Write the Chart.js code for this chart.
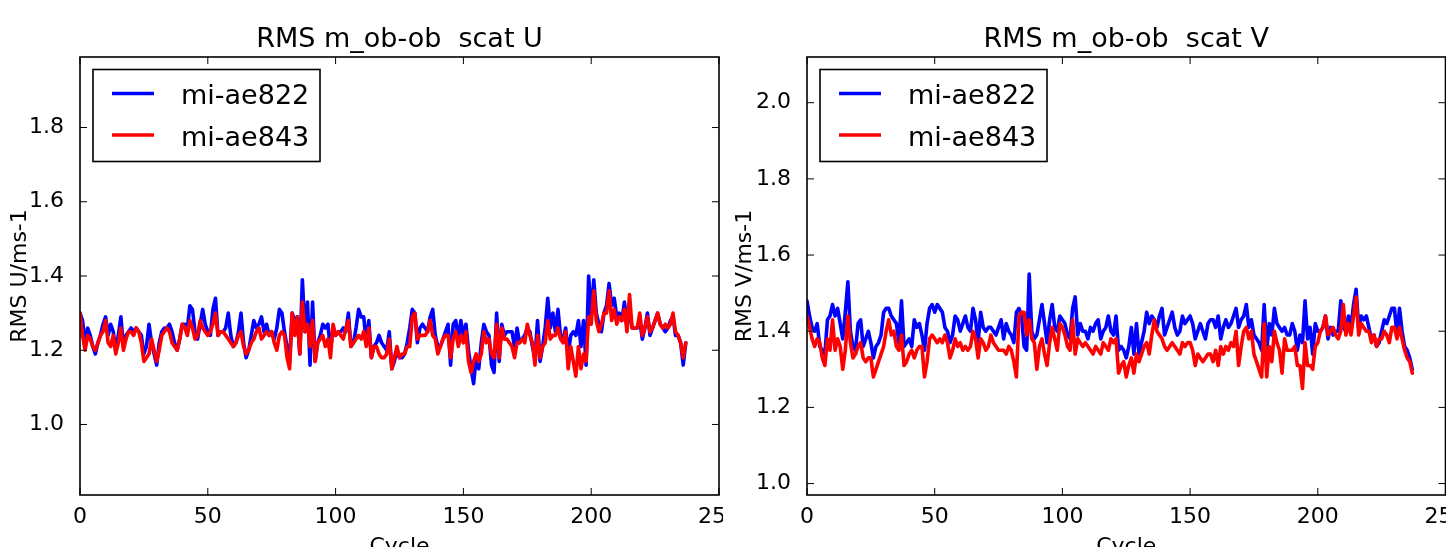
<!DOCTYPE html>
<html><head><meta charset="utf-8">
<script src="https://cdn.jsdelivr.net/npm/chart.js@4/dist/chart.umd.min.js"></script>
<style>
html,body{margin:0;padding:0;background:#fff;width:1446px;height:547px;overflow:hidden}
.panel{position:absolute;top:0;width:723px;height:547px;overflow:hidden;background:#fff}
canvas{display:block}
</style></head><body>
<div class="panel" style="left:0"><canvas id="cU" width="800" height="600"></canvas></div>
<div class="panel" style="left:723px"><canvas id="cV" width="800" height="600"></canvas></div>
<script>
// ---------- DATA ----------
const seriesNames = ['mi-ae822', 'mi-ae843'];
const seriesColors = ['#0000ff', '#ff0000'];
const xTicks = [0, 50, 100, 150, 200, 250];
const uTicks = [1.0, 1.2, 1.4, 1.6, 1.8];
const vTicks = [1.0, 1.2, 1.4, 1.6, 1.8, 2.0];
const titleU = 'RMS m_ob-ob  scat U';
const titleV = 'RMS m_ob-ob  scat V';
const yLabelU = 'RMS U/ms-1';
const yLabelV = 'RMS V/ms-1';
const xLabel = 'Cycle';

// RMS U, mi-ae822 (cycles 0..237)
const u822 = [
1.30,1.28,1.22,1.26,1.24,1.21,1.19,1.22,1.24,1.27,1.29,1.24,1.27,1.25,1.20,1.24,1.29,1.21,1.24,1.25,
1.26,1.25,1.26,1.25,1.24,1.19,1.21,1.27,1.22,1.19,1.16,1.22,1.25,1.26,1.26,1.27,1.25,1.22,1.20,1.23,
1.27,1.27,1.26,1.32,1.31,1.25,1.23,1.27,1.31,1.27,1.25,1.24,1.31,1.34,1.24,1.25,1.25,1.26,1.30,1.24,
1.21,1.22,1.25,1.30,1.22,1.18,1.20,1.24,1.28,1.26,1.27,1.29,1.25,1.27,1.24,1.25,1.23,1.26,1.31,1.30,
1.25,1.21,1.17,1.30,1.28,1.29,1.19,1.39,1.25,1.33,1.16,1.33,1.17,1.22,1.24,1.27,1.26,1.27,1.20,1.26,
1.24,1.25,1.25,1.26,1.25,1.30,1.21,1.22,1.26,1.31,1.29,1.29,1.22,1.28,1.18,1.21,1.22,1.24,1.22,1.21,
1.20,1.25,1.15,1.17,1.20,1.18,1.18,1.19,1.22,1.26,1.31,1.30,1.22,1.26,1.27,1.26,1.25,1.29,1.31,1.24,
1.21,1.21,1.23,1.25,1.27,1.16,1.27,1.28,1.23,1.28,1.24,1.27,1.20,1.15,1.11,1.18,1.15,1.22,1.27,1.25,
1.24,1.16,1.14,1.30,1.17,1.27,1.24,1.25,1.25,1.25,1.21,1.26,1.22,1.23,1.24,1.26,1.25,1.21,1.18,1.28,
1.17,1.21,1.26,1.34,1.26,1.30,1.25,1.31,1.24,1.23,1.26,1.19,1.24,1.25,1.24,1.28,1.21,1.28,1.16,1.40,
1.29,1.39,1.30,1.27,1.25,1.30,1.32,1.38,1.32,1.34,1.29,1.30,1.28,1.33,1.27,1.30,1.26,1.26,1.26,1.28,
1.23,1.26,1.30,1.24,1.26,1.28,1.30,1.27,1.26,1.25,1.26,1.28,1.29,1.24,1.24,1.22,1.16,1.22
];
// RMS U, mi-ae843
const u843 = [
1.30,1.24,1.20,1.24,1.23,1.21,1.20,1.22,1.24,1.25,1.28,1.22,1.21,1.24,1.19,1.22,1.26,1.20,1.23,1.25,
1.25,1.24,1.26,1.25,1.22,1.17,1.18,1.19,1.23,1.20,1.17,1.20,1.24,1.25,1.26,1.25,1.22,1.21,1.20,1.23,
1.27,1.26,1.24,1.28,1.26,1.23,1.24,1.28,1.26,1.25,1.24,1.25,1.27,1.30,1.24,1.25,1.25,1.24,1.23,1.22,
1.21,1.22,1.24,1.25,1.21,1.19,1.20,1.22,1.23,1.25,1.26,1.23,1.24,1.25,1.24,1.25,1.22,1.20,1.24,1.25,
1.24,1.18,1.15,1.30,1.24,1.29,1.19,1.33,1.25,1.27,1.21,1.28,1.17,1.22,1.23,1.24,1.21,1.23,1.18,1.27,
1.24,1.25,1.24,1.23,1.26,1.28,1.21,1.22,1.23,1.24,1.23,1.25,1.21,1.26,1.18,1.21,1.21,1.19,1.18,1.18,
1.19,1.23,1.15,1.18,1.21,1.18,1.19,1.19,1.21,1.21,1.29,1.30,1.23,1.24,1.24,1.24,1.25,1.28,1.24,1.23,
1.19,1.21,1.23,1.24,1.24,1.18,1.23,1.25,1.21,1.24,1.22,1.25,1.17,1.14,1.17,1.19,1.17,1.19,1.25,1.22,
1.23,1.19,1.18,1.27,1.18,1.26,1.23,1.23,1.22,1.21,1.18,1.22,1.22,1.23,1.22,1.27,1.24,1.22,1.16,1.24,
1.18,1.21,1.22,1.28,1.23,1.24,1.24,1.26,1.23,1.22,1.25,1.15,1.21,1.17,1.13,1.21,1.15,1.19,1.17,1.29,
1.27,1.36,1.28,1.25,1.27,1.30,1.30,1.36,1.28,1.31,1.27,1.29,1.28,1.31,1.25,1.35,1.26,1.26,1.26,1.30,
1.24,1.26,1.29,1.25,1.26,1.28,1.30,1.27,1.26,1.27,1.26,1.27,1.30,1.25,1.24,1.22,1.18,1.22
];
// RMS V, mi-ae822
const v822 = [
1.48,1.44,1.41,1.40,1.42,1.36,1.35,1.34,1.43,1.44,1.47,1.44,1.46,1.42,1.38,1.45,1.53,1.40,1.36,1.35,
1.42,1.43,1.36,1.38,1.40,1.37,1.33,1.36,1.37,1.39,1.45,1.46,1.46,1.44,1.43,1.42,1.37,1.48,1.36,1.37,
1.38,1.36,1.43,1.41,1.42,1.39,1.35,1.42,1.46,1.47,1.45,1.47,1.46,1.45,1.41,1.40,1.37,1.39,1.44,1.43,
1.40,1.42,1.44,1.41,1.40,1.46,1.43,1.37,1.45,1.41,1.40,1.41,1.41,1.40,1.39,1.41,1.43,1.38,1.42,1.40,
1.39,1.37,1.45,1.46,1.44,1.36,1.35,1.55,1.40,1.38,1.39,1.43,1.47,1.42,1.37,1.43,1.47,1.41,1.40,1.44,
1.43,1.42,1.39,1.38,1.46,1.49,1.39,1.42,1.40,1.40,1.38,1.41,1.40,1.42,1.43,1.38,1.40,1.41,1.44,1.40,
1.39,1.44,1.35,1.36,1.35,1.33,1.36,1.41,1.34,1.42,1.34,1.37,1.40,1.45,1.42,1.44,1.43,1.41,1.44,1.46,
1.39,1.41,1.43,1.45,1.41,1.39,1.40,1.44,1.42,1.43,1.44,1.42,1.38,1.40,1.42,1.40,1.38,1.42,1.43,1.43,
1.41,1.44,1.38,1.41,1.43,1.41,1.42,1.44,1.46,1.41,1.43,1.44,1.47,1.41,1.43,1.39,1.38,1.37,1.35,1.47,
1.35,1.42,1.39,1.46,1.42,1.41,1.40,1.41,1.39,1.39,1.42,1.40,1.35,1.39,1.37,1.48,1.38,1.41,1.34,1.42,
1.40,1.40,1.41,1.44,1.38,1.41,1.39,1.40,1.40,1.48,1.41,1.40,1.44,1.41,1.47,1.51,1.41,1.44,1.43,1.44,
1.41,1.38,1.39,1.36,1.37,1.40,1.43,1.42,1.44,1.46,1.46,1.39,1.46,1.40,1.36,1.35,1.33,1.30
];
// RMS V, mi-ae843
const v843 = [
1.44,1.41,1.38,1.36,1.38,1.37,1.33,1.31,1.38,1.35,1.43,1.35,1.38,1.36,1.30,1.35,1.44,1.37,1.33,1.34,
1.36,1.37,1.33,1.32,1.33,1.33,1.28,1.30,1.32,1.34,1.36,1.40,1.43,1.39,1.40,1.36,1.35,1.39,1.31,1.32,
1.34,1.35,1.33,1.35,1.36,1.36,1.28,1.32,1.38,1.39,1.38,1.37,1.38,1.37,1.39,1.37,1.33,1.35,1.38,1.36,
1.37,1.35,1.36,1.35,1.36,1.40,1.38,1.33,1.38,1.37,1.35,1.36,1.39,1.37,1.36,1.35,1.35,1.35,1.34,1.36,
1.35,1.32,1.28,1.44,1.45,1.45,1.39,1.43,1.38,1.37,1.30,1.36,1.38,1.34,1.31,1.37,1.41,1.38,1.35,1.42,
1.41,1.39,1.36,1.35,1.43,1.34,1.38,1.37,1.36,1.37,1.36,1.35,1.34,1.36,1.35,1.34,1.37,1.36,1.35,1.38,
1.37,1.38,1.29,1.31,1.32,1.28,1.31,1.33,1.29,1.34,1.32,1.34,1.36,1.37,1.34,1.39,1.43,1.40,1.39,1.38,
1.36,1.35,1.36,1.37,1.36,1.35,1.34,1.37,1.36,1.37,1.37,1.35,1.31,1.34,1.33,1.32,1.33,1.34,1.34,1.32,
1.35,1.31,1.36,1.34,1.36,1.35,1.37,1.36,1.40,1.31,1.36,1.40,1.41,1.38,1.40,1.34,1.32,1.30,1.28,1.42,
1.28,1.36,1.32,1.40,1.37,1.35,1.29,1.38,1.35,1.35,1.35,1.36,1.31,1.31,1.25,1.37,1.31,1.31,1.30,1.36,
1.37,1.40,1.41,1.44,1.39,1.40,1.41,1.39,1.38,1.40,1.47,1.39,1.42,1.39,1.44,1.49,1.39,1.42,1.41,1.40,
1.40,1.37,1.39,1.36,1.38,1.38,1.40,1.39,1.37,1.41,1.41,1.38,1.41,1.38,1.35,1.33,1.32,1.29
];

// ---------- DRAWING ----------
const FONT = '"DejaVu Sans", "Liberation Sans", sans-serif';

const decor = {
  id: 'decor',
  afterDatasetsDraw(chart, args, opts) {
    const {ctx, chartArea: a, scales: {x, y}} = chart;
    const line = (x1, y1, x2, y2) => { ctx.beginPath(); ctx.moveTo(x1, y1); ctx.lineTo(x2, y2); ctx.stroke(); };
    ctx.save();
    ctx.strokeStyle = '#000';
    ctx.lineWidth = 1;
    const L = 7;
    x.ticks.forEach(t => {
      const px = x.getPixelForValue(t.value);
      line(px, a.bottom, px, a.bottom - L);
      line(px, a.top, px, a.top + L);
    });
    y.ticks.forEach(t => {
      const py = y.getPixelForValue(t.value);
      line(a.left, py, a.left + L, py);
      line(a.right, py, a.right - L, py);
    });
    ctx.lineWidth = 1.6;
    ctx.strokeRect(a.left, a.top, a.right - a.left, a.bottom - a.top);
    // legend
    const bx = a.left + 13, by = a.top + 12.5, bw = 227, bh = 92;
    ctx.fillStyle = '#fff';
    ctx.fillRect(bx, by, bw, bh);
    ctx.strokeStyle = '#000';
    ctx.lineWidth = 1.6;
    ctx.strokeRect(bx, by, bw, bh);
    ctx.font = '27px ' + FONT;
    ctx.textAlign = 'left';
    ctx.textBaseline = 'alphabetic';
    chart.data.datasets.forEach((ds, i) => {
      const ly = by + 24 + i * 41.5;
      ctx.strokeStyle = ds.borderColor;
      ctx.lineWidth = 3.6;
      line(bx + 19, ly, bx + 61, ly);
      ctx.fillStyle = '#000';
      ctx.fillText(ds.label, bx + 88, ly + 10.5);
    });
    // title
    ctx.textAlign = 'center';
    ctx.fillStyle = '#000';
    ctx.fillText(opts.title, (a.left + a.right) / 2, 47);
    ctx.restore();
  }
};

function makeChart(id, s1, s2, yTicks, yMin, yMax, title, yLabel, yWidth, padRight, yTitlePad) {
  const series = [s1, s2];
  return new Chart(document.getElementById(id), {
    type: 'line',
    data: {
      datasets: series.map((vals, i) => ({
        label: seriesNames[i],
        data: vals.map((v, k) => ({x: k, y: v})),
        borderColor: seriesColors[i],
        backgroundColor: seriesColors[i],
        borderWidth: 3.6,
        pointRadius: 0,
        tension: 0,
        fill: false,
        borderJoinStyle: 'round',
        borderCapStyle: 'round',
        order: i === 0 ? 1 : 0
      }))
    },
    options: {
      responsive: false,
      animation: false,
      devicePixelRatio: 1,
      layout: {padding: {left: 0, top: 57, right: padRight, bottom: 40}},
      plugins: {legend: {display: false}, tooltip: {enabled: false}, decor: {title: title}},
      scales: {
        x: {
          type: 'linear', min: 0, max: 250,
          grid: {display: false}, border: {display: false},
          afterBuildTicks: s => { s.ticks = xTicks.map(v => ({value: v})); },
          afterFit: s => { s.height = 65; },
          ticks: {color: '#000', font: {family: FONT, size: 22}, padding: 1, autoSkip: false, maxRotation: 0,
                  callback: v => String(v)},
          title: {display: true, text: xLabel, color: '#000', font: {family: FONT, size: 22}, padding: {top: 0, bottom: 0}}
        },
        y: {
          type: 'linear', min: yMin, max: yMax,
          grid: {display: false}, border: {display: false},
          afterBuildTicks: s => { s.ticks = yTicks.map(v => ({value: v})); },
          afterFit: s => { s.width = yWidth; },
          ticks: {color: '#000', font: {family: FONT, size: 22}, padding: 8, callback: v => Number(v).toFixed(1)},
          title: {display: true, text: yLabel, color: '#000', font: {family: FONT, size: 22}, padding: {top: yTitlePad, bottom: 0}}
        }
      }
    },
    plugins: [decor]
  });
}

makeChart('cU', u822, u843, uTicks, 0.81, 1.99, titleU, yLabelU, 80, 81, 6.6);
makeChart('cV', v822, v843, vTicks, 0.97, 2.12, titleV, yLabelV, 84, 77.5, 9);
</script>
</body></html>
